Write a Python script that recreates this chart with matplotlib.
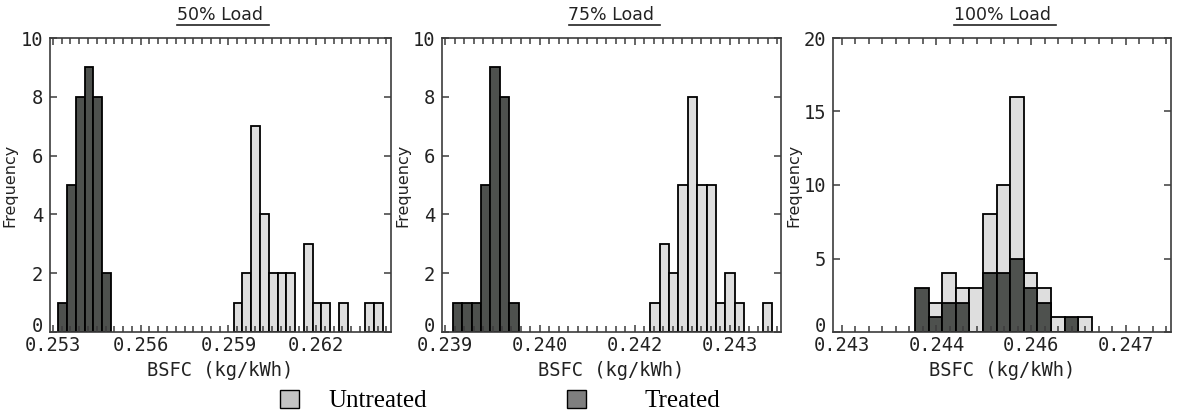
#!/usr/bin/env python3
"""BSFC histograms at three engine loads, untreated vs treated fuel."""

import matplotlib

matplotlib.use("Agg")
import matplotlib.pyplot as plt
import numpy as np
from matplotlib.lines import Line2D
from matplotlib.patches import Rectangle
from matplotlib.ticker import FixedLocator, FormatStrFormatter

# 50% load: bin counts, first bin edge and bin width (kg/kWh)
untreated_50 = [1, 2, 7, 4, 2, 2, 2, 0, 3, 1, 1, 0, 1, 0, 0, 1, 1]
treated_50 = [1, 5, 8, 9, 8, 2]
untreated_50_start = 0.25918
treated_50_start = 0.25318
bin_50 = 0.0003

# 75% load
untreated_75 = [1, 3, 2, 5, 8, 5, 5, 1, 2, 1, 0, 0, 1]
treated_75 = [1, 1, 1, 5, 9, 8, 1]
untreated_75_start = 0.241807
treated_75_start = 0.239106
bin_75 = 0.0001286

# 100% load (both series share the same bins)
untreated_100 = [0, 2, 4, 3, 3, 8, 10, 16, 4, 3, 1, 0, 1]
treated_100 = [3, 1, 2, 2, 0, 4, 4, 5, 3, 2, 0, 1, 0]
untreated_100_start = 0.244006
treated_100_start = 0.244006
bin_100 = 0.0001866

titles = ["50% Load", "75% Load", "100% Load"]
legend_labels = ["Untreated", "Treated"]

W, H = 1179, 419
COLOR_LIGHT = "#dedede"
COLOR_DARK = "#4e514e"
COLOR_FRAME = "#3c3c3c"
COLOR_TEXT = "#222222"
MONO = "DejaVu Sans Mono"


def configure_style() -> None:
    plt.rcParams.update(
        {
            "figure.facecolor": "white",
            "axes.facecolor": "white",
            "savefig.facecolor": "white",
            "font.family": "DejaVu Sans",
            "axes.edgecolor": COLOR_FRAME,
            "axes.linewidth": 1.2,
            "xtick.direction": "in",
            "ytick.direction": "in",
            "xtick.color": COLOR_FRAME,
            "ytick.color": COLOR_FRAME,
            "xtick.labelcolor": COLOR_TEXT,
            "ytick.labelcolor": COLOR_TEXT,
        }
    )


def px_axes(left, right, top, bottom):
    return [left / W, (H - bottom) / H, (right - left) / W, (bottom - top) / H]


def draw_hist(ax, counts, start, width, color):
    counts = np.asarray(counts, dtype=float)
    edges = start + width * np.arange(len(counts))
    keep = counts > 0
    ax.bar(
        edges[keep],
        counts[keep],
        width=width,
        align="edge",
        color=color,
        edgecolor="black",
        linewidth=1.3,
    )


def style_axes(ax, xlim, x0, major, n_minor, ymax, ystep):
    ax.set_xlim(*xlim)
    ax.set_ylim(0, ymax)
    ax.set_xticks(np.arange(x0, xlim[1], major))
    # minor ticks counted from the first major tick, both directions
    step = major / n_minor
    k = np.arange(np.floor((xlim[0] - x0) / step), np.ceil((xlim[1] - x0) / step) + 1)
    ax.xaxis.set_minor_locator(FixedLocator(x0 + k * step))
    ax.xaxis.set_major_formatter(FormatStrFormatter("%.3f"))
    ax.set_yticks(np.arange(0, ymax + 0.1, ystep))
    ax.tick_params(axis="x", which="both", top=True, bottom=True, pad=3)
    ax.tick_params(axis="x", which="major", length=5, width=1.1)
    ax.tick_params(axis="x", which="minor", length=4, width=1.1)
    ax.tick_params(axis="y", left=True, right=True, length=5, width=1.1, pad=5)
    for lab in ax.get_xticklabels() + ax.get_yticklabels():
        lab.set_fontfamily(MONO)
        lab.set_fontsize(13.5)
    # the zero label sits on the axis line, clear of the x labels
    ax.get_yticklabels()[0].set_verticalalignment("baseline")
    ax.set_xlabel("BSFC (kg/kWh)", family=MONO, fontsize=13.5, labelpad=4, color=COLOR_TEXT)
    ax.set_ylabel("Frequency", fontsize=11.5, labelpad=2, color=COLOR_TEXT)


def main() -> None:
    configure_style()
    fig = plt.figure(figsize=(W / 100, H / 100), dpi=100)

    panels = [
        (px_axes(50, 391, 38, 332), (0.25290, 0.26456), 0.253, 0.003, 10, 10, 2,
         untreated_50, untreated_50_start, treated_50, treated_50_start, bin_50),
        (px_axes(442.3, 780.7, 38, 332), (0.238963, 0.243594), 0.239, 0.0013, 10, 10, 2,
         untreated_75, untreated_75_start, treated_75, treated_75_start, bin_75),
        (px_axes(833.3, 1170.7, 38, 332), (0.2428847, 0.2475164), 0.243, 0.0013, 7, 20, 5,
         untreated_100, untreated_100_start, treated_100, treated_100_start, bin_100),
    ]

    title_artists = []
    for title, (rect, xlim, x0, major, n_minor, ymax, ystep,
                unt, unt_start, trt, trt_start, width) in zip(titles, panels):
        ax = fig.add_axes(rect)
        # untreated first, treated drawn over it
        draw_hist(ax, unt, unt_start, width, COLOR_LIGHT)
        draw_hist(ax, trt, trt_start, width, COLOR_DARK)
        style_axes(ax, xlim, x0, major, n_minor, ymax, ystep)
        t = ax.text(0.5, 1 + 14 / 294, title, transform=ax.transAxes,
                    ha="center", va="bottom", fontsize=12.5, color=COLOR_TEXT)
        title_artists.append(t)

    # underline the panel titles
    fig.canvas.draw()
    for t in title_artists:
        bb = t.get_window_extent()
        y = bb.y0 - 1
        fig.add_artist(Line2D([bb.x0 / W, (bb.x1 + 5) / W], [y / H, y / H],
                              transform=fig.transFigure, color=COLOR_TEXT, linewidth=1.2))

    # legend along the bottom
    for (x, color), label, tx in zip([(280, "#c4c4c4"), (567, "#7f7f7f")],
                                     legend_labels, [328, 645]):
        fig.add_artist(Rectangle((x / W, (H - 408) / H), 19 / W, 18 / H,
                                 transform=fig.transFigure, facecolor=color,
                                 edgecolor="black", linewidth=1.0))
        fig.text(tx / W, (H - 401) / H, label, family="Liberation Serif",
                 fontsize=18, ha="left", va="center")

    fig.savefig("out.png", dpi=100)
    plt.close(fig)


if __name__ == "__main__":
    main()
